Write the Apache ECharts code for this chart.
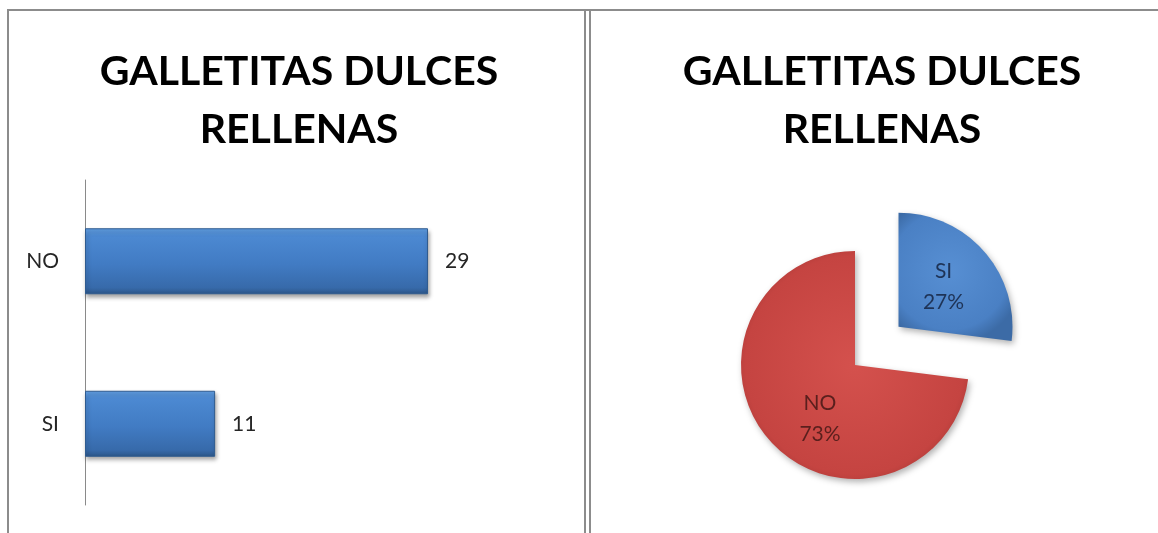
<!DOCTYPE html>
<html>
<head>
<meta charset="utf-8">
<title>Galletitas dulces rellenas</title>
<script src="https://cdn.jsdelivr.net/npm/echarts@6/dist/echarts.min.js"></script>
<style>
  html, body { margin: 0; padding: 0; background: #ffffff; }
  #chart { width: 1158px; height: 533px; }
</style>
</head>
<body>
<div id="chart"></div>
<script>
// Survey answers: count of people per answer
const categories = ['SI', 'NO'];
const counts = [11, 29];

// Share of answers in percent, as printed on the pie
const pieLabels = ['SI', 'NO'];
const pieShares = [27, 73];

const chartTitle = 'GALLETITAS DULCES\nRELLENAS';

const FONT = 'Lato, "Open Sans", sans-serif';
const TITLE_FONT = 'Lato, "Open Sans", sans-serif';

const barFill = new echarts.graphic.LinearGradient(0, 0, 0, 1, [
  { offset: 0, color: '#62a0e4' },
  { offset: 0.12, color: '#4c89d2' },
  { offset: 0.55, color: '#417bc3' },
  { offset: 0.9, color: '#376aaa' },
  { offset: 1, color: '#2c5688' }
]);

const sliceFills = {
  SI: new echarts.graphic.RadialGradient(0.45, 0.45, 0.65, [
    { offset: 0, color: '#578fd3' },
    { offset: 0.8, color: '#4a80c4' },
    { offset: 1, color: '#3c6ba6' }
  ]),
  NO: new echarts.graphic.RadialGradient(0.5, 0.5, 0.6, [
    { offset: 0, color: '#d4514d' },
    { offset: 0.8, color: '#c54441' },
    { offset: 1, color: '#9c3431' }
  ])
};
const sliceText = { SI: '#1e3356', NO: '#5a1f1d' };
// nudge for the label of each slice
const sliceLabelOffset = { SI: [2, -2], NO: [10, 14] };

const chart = echarts.init(document.getElementById('chart'), null, { renderer: 'canvas' });

const borderColor = '#8c8c8c';
const titleStyle = { fontFamily: TITLE_FONT, fontWeight: 'bold', fontSize: 41, lineHeight: 58, color: '#000' };

chart.setOption({
  backgroundColor: '#ffffff',
  animation: false,
  title: [
    { text: chartTitle, left: 294, top: 38, textAlign: 'center', textStyle: titleStyle },
    { text: chartTitle, left: 877, top: 38, textAlign: 'center', textStyle: titleStyle }
  ],
  graphic: [
    // panel frames
    { type: 'line', shape: { x1: 7, y1: 10, x2: 1158, y2: 10 }, style: { stroke: borderColor, lineWidth: 2 } },
    { type: 'line', shape: { x1: 8, y1: 10, x2: 8, y2: 533 }, style: { stroke: borderColor, lineWidth: 2 } },
    { type: 'line', shape: { x1: 585, y1: 10, x2: 585, y2: 533 }, style: { stroke: borderColor, lineWidth: 2 } },
    { type: 'line', shape: { x1: 590, y1: 10, x2: 590, y2: 533 }, style: { stroke: borderColor, lineWidth: 2 } }
  ],
  grid: { left: 85, top: 180, width: 414, height: 325, containLabel: false },
  xAxis: {
    type: 'value',
    min: 0,
    max: 35,
    show: false
  },
  yAxis: {
    type: 'category',
    data: categories,
    axisLine: { show: true, lineStyle: { color: '#8a8a8a', width: 1 } },
    axisTick: { show: false },
    axisLabel: { margin: 26, fontFamily: FONT, fontSize: 21, color: '#262626' },
    splitLine: { show: false }
  },
  series: [
    {
      type: 'bar',
      data: counts,
      barWidth: 66,
      itemStyle: {
        color: barFill,
        borderColor: '#2f5b8f',
        borderWidth: 1,
        shadowColor: 'rgba(0,0,0,0.35)',
        shadowBlur: 4,
        shadowOffsetX: 1,
        shadowOffsetY: 3
      },
      label: {
        show: true,
        position: 'right',
        distance: 17,
        fontFamily: FONT,
        fontSize: 21,
        color: '#262626'
      }
    },
    {
      type: 'pie',
      center: [855, 365],
      radius: 114,
      startAngle: 90,
      clockwise: true,
      selectedMode: 'single',
      selectedOffset: 58,
      avoidLabelOverlap: false,
      labelLine: { show: false },
      data: pieLabels.map((name, i) => ({
        name,
        value: pieShares[i],
        selected: name === 'SI',
        itemStyle: {
          color: sliceFills[name],
          shadowColor: 'rgba(0,0,0,0.3)',
          shadowBlur: 6,
          shadowOffsetX: 2,
          shadowOffsetY: 3
        },
        label: { color: sliceText[name], offset: sliceLabelOffset[name] }
      })),
      label: {
        show: true,
        position: 'inside',
        formatter: '{b}\n{c}%',
        fontFamily: FONT,
        fontSize: 21,
        lineHeight: 31
      },
      emphasis: { disabled: true }
    }
  ]
});
</script>
</body>
</html>
